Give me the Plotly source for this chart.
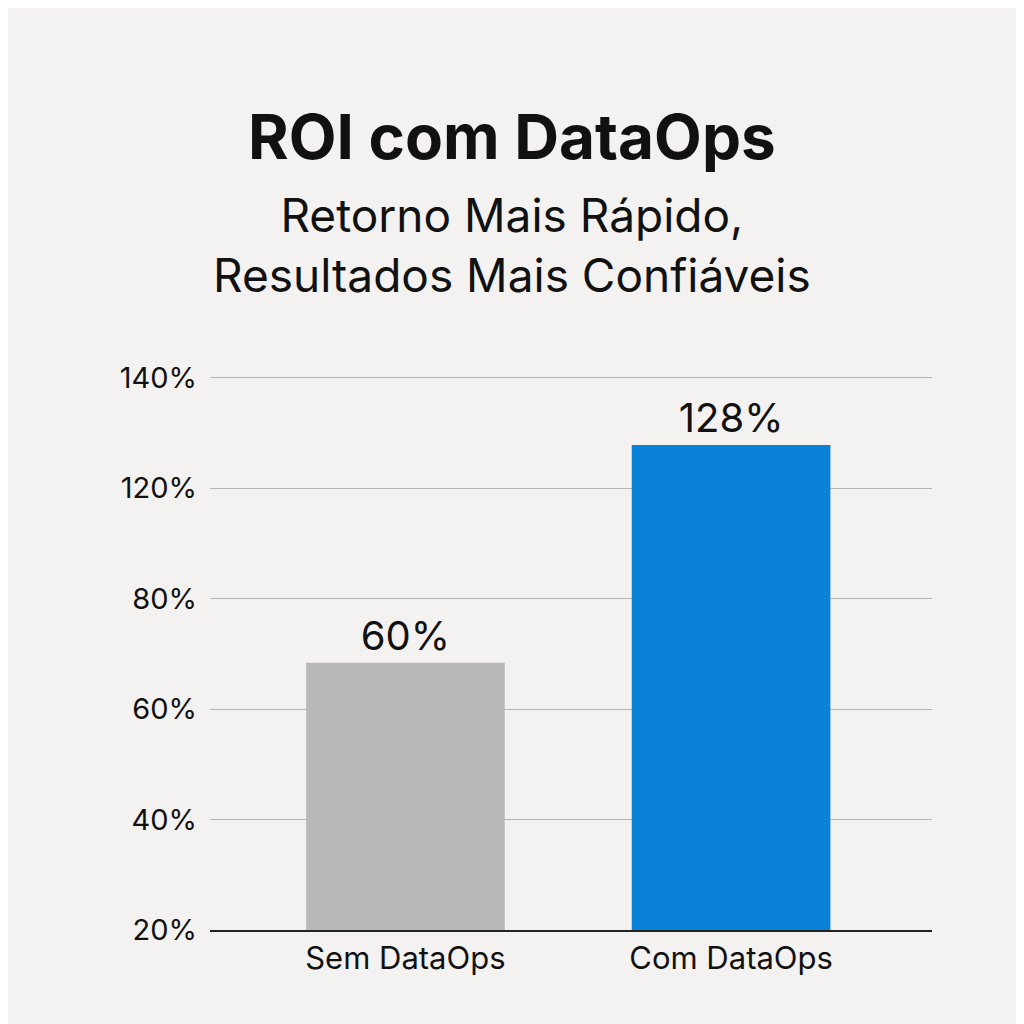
import plotly.graph_objects as go

categories = ["Sem DataOps", "Com DataOps"]
bar_heights = [68.4, 107.8]          # drawn heights on the chart's axis
value_labels = ["60%", "128%"]
tick_vals = [20, 40, 60, 80, 100, 120]
tick_text = ["20%", "40%", "60%", "80%", "120%", "140%"]
colors = ["#b8b8b8", "#0a82d8"]

L, R, T, B = 202, 100, 368, 102
fig = go.Figure(go.Bar(
    x=[0, 1], y=bar_heights, base=0, width=0.61,
    marker=dict(color=colors, line=dict(width=0)),
    text=value_labels, textposition="outside", cliponaxis=False,
    textfont=dict(size=40, color="#111"),
))
fig.update_layout(
    width=1024, height=1024, paper_bgcolor="#f3f2f0", plot_bgcolor="#f3f2f0",
    margin=dict(l=L, r=R, t=T, b=B), showlegend=False,
    font=dict(family="Inter, Noto Sans, sans-serif", color="#111"),
    xaxis=dict(range=[-0.6, 1.617], tickvals=[0, 1], ticktext=categories,
               tickfont=dict(size=31), showgrid=False, zeroline=False,
               showline=True, linecolor="#222", linewidth=1.5, ticks="", ticklen=0),
    yaxis=dict(range=[20, 120.3], tickvals=tick_vals, ticktext=tick_text,
               tickfont=dict(size=29), gridcolor="#b5b5b5", gridwidth=1,
               zeroline=False, ticks="", ticklabelstandoff=12),
    annotations=[
        dict(text="<b>ROI com DataOps</b>", x=0.418, y=128, xref="paper", yref="paper",
             showarrow=False, font=dict(size=62)),
        dict(text="Retorno Mais Rápido,<br>Resultados Mais Confiáveis", x=0.418, y=237,
             xref="paper", yref="paper", showarrow=False, font=dict(size=46)),
    ],
)
ph = 1024 - T - B
for a in fig.layout.annotations:
    a.y = (1024 - B - a.y) / ph
    a.yanchor = "middle"
fig.write_html("out.html")
